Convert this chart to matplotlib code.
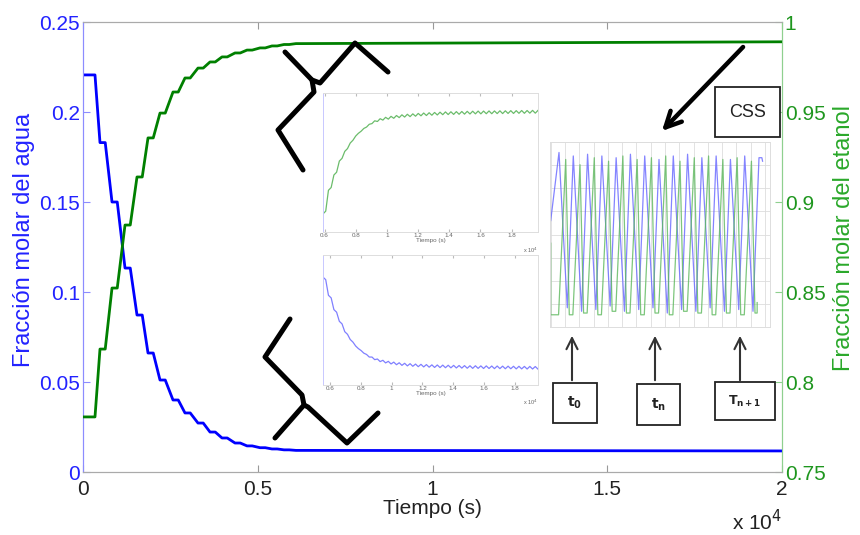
"""
Fracción molar de agua y etanol frente al tiempo, con detalles del estado
cíclico estacionario (CSS)
"""

import numpy as np
import matplotlib
matplotlib.use("Agg")
import matplotlib.pyplot as plt
from matplotlib.lines import Line2D

plt.rcParams['font.family'] = ['Liberation Sans', 'DejaVu Sans']

# --- main curves: one plateau per cycle (s, fraction) ---
cycle_t = [0, 486, 830, 1202, 1545, 1860, 2203, 2575, 2918, 3290, 3634,
           3977, 4349, 4692, 5064, 5407, 5751, 6094]
cycle_hold = [343, 150, 150, 150, 150, 150, 150, 150, 150, 150, 150,
              150, 150, 150, 150, 150, 150, 150]
water = [0.2206, 0.183, 0.150, 0.1133, 0.0872, 0.0661, 0.0511, 0.040, 0.0328,
         0.0272, 0.0222, 0.0189, 0.0161, 0.0145, 0.0135, 0.0128, 0.0123, 0.0120]
ethanol = [0.7806, 0.8183, 0.8522, 0.8872, 0.9139, 0.9356, 0.9494, 0.9611,
           0.9689, 0.9744, 0.9778, 0.9806, 0.9828, 0.9844, 0.9856, 0.9867,
           0.9875, 0.988]
t_end = 20000
water_end = 0.0117
ethanol_end = 0.989

x_ticks = [0, 5000, 10000, 15000, 20000]
x_ticklabels = ['0', '0.5', '1', '1.5', '2']
water_ticks = [0, 0.05, 0.1, 0.15, 0.2, 0.25]
water_ticklabels = ['0', '0.05', '0.1', '0.15', '0.2', '0.25']
ethanol_ticks = [0.75, 0.8, 0.85, 0.9, 0.95, 1.0]
ethanol_ticklabels = ['0.75', '0.8', '0.85', '0.9', '0.95', '1']

# --- zoomed insets (x in 1e4 s, y relative) ---
ins_green_span = (0.59, 1.97)
ins_green_lo = [0.13, 0.30, 0.41, 0.51, 0.58, 0.64, 0.69, 0.725, 0.755, 0.78,
                0.795, 0.805, 0.812, 0.818, 0.823, 0.827, 0.83, 0.833, 0.836,
                0.838, 0.84, 0.842, 0.844, 0.845, 0.846, 0.847, 0.848, 0.849,
                0.85, 0.85, 0.851, 0.851, 0.852, 0.852, 0.853, 0.853, 0.854,
                0.854, 0.855, 0.855]
ins_green_hi = [0.15, 0.32, 0.43, 0.53, 0.60, 0.66, 0.71, 0.745, 0.775, 0.80,
                0.815, 0.825, 0.832, 0.838, 0.843, 0.847, 0.85, 0.853, 0.856,
                0.858, 0.86, 0.862, 0.864, 0.865, 0.866, 0.867, 0.868, 0.869,
                0.87, 0.87, 0.871, 0.871, 0.872, 0.872, 0.873, 0.873, 0.874,
                0.874, 0.875, 0.875]
ins_blue_span = (0.555, 1.95)
ins_blue_hi = [0.83, 0.69, 0.58, 0.49, 0.41, 0.35, 0.30, 0.265, 0.235, 0.215,
               0.20, 0.19, 0.182, 0.176, 0.171, 0.167, 0.164, 0.161, 0.159,
               0.157, 0.155, 0.154, 0.153, 0.152, 0.151, 0.15, 0.149, 0.148,
               0.148, 0.147, 0.147, 0.146, 0.146, 0.145, 0.145, 0.144, 0.144,
               0.143, 0.143, 0.142]
ins_blue_lo = [0.81, 0.67, 0.56, 0.47, 0.39, 0.33, 0.28, 0.245, 0.215, 0.195,
               0.18, 0.17, 0.162, 0.156, 0.151, 0.147, 0.144, 0.141, 0.139,
               0.137, 0.135, 0.134, 0.133, 0.132, 0.131, 0.13, 0.129, 0.128,
               0.128, 0.127, 0.127, 0.126, 0.126, 0.125, 0.125, 0.124, 0.124,
               0.123, 0.123, 0.122]
ins_ticks = [0.6, 0.8, 1.0, 1.2, 1.4, 1.6, 1.8]
ins_ticklabels = ['0.6', '0.8', '1', '1.2', '1.4', '1.6', '1.8']

# --- CSS detail: one entry per cycle ---
css_blue_start = 0.58
css_blue_peak = [0.97, 0.95, 0.96, 0.95, 0.94, 0.96, 0.95, 0.93, 0.95, 0.96,
                 0.94, 0.95, 0.93, 0.95, 0.94]
css_blue_trough = [0.08, 0.06, 0.07, 0.09, 0.06, 0.07, 0.08, 0.05, 0.07, 0.06,
                   0.08, 0.06, 0.07, 0.06, 0.07]
css_green_start = 0.45
css_green_peak = [0.93, 0.90, 0.94, 0.92, 0.95, 0.93, 0.94, 0.95, 0.92, 0.94,
                  0.95, 0.93, 0.94, 0.92]
css_green_floor = [0.04, 0.04, 0.05, 0.04, 0.06, 0.05, 0.04, 0.05, 0.04, 0.06,
                   0.05, 0.04, 0.05, 0.04, 0.05]

BLUE = '#0000ff'
GREEN = '#008000'
W, H = 860, 535


def fig_xy(px, py):
    return px / W, 1 - py / H


def fig_rect(x0, y0, x1, y1):
    return [x0 / W, 1 - y1 / H, (x1 - x0) / W, (y1 - y0) / H]


def stair(times, holds, values, t_last, v_last):
    xs, ys = [], []
    for t, h, v in zip(times, holds, values):
        xs += [t, t + h]
        ys += [v, v]
    xs.append(t_last)
    ys.append(v_last)
    return xs, ys


fig = plt.figure(figsize=(W / 100, H / 100), dpi=100)
ax = fig.add_axes(fig_rect(83, 22, 782, 472))
ax2 = ax.twinx()

xs, ys = stair(cycle_t, cycle_hold, water, t_end, water_end)
ax.plot(xs, ys, color=BLUE, lw=2.0, zorder=3)
xs, ys = stair(cycle_t, cycle_hold, ethanol, t_end, ethanol_end)
ax2.plot(xs, ys, color=GREEN, lw=2.0, zorder=3)

ax.set_xlim(0, 20000)
ax.set_ylim(0, 0.25)
ax2.set_ylim(0.75, 1.0)
ax.set_xticks(x_ticks, x_ticklabels)
ax.set_yticks(water_ticks, water_ticklabels)
ax2.set_yticks(ethanol_ticks, ethanol_ticklabels)

ax.tick_params(axis='x', direction='in', length=5, top=True, labelsize=15,
               colors='#999999', labelcolor='#222222', pad=6)
ax.tick_params(axis='y', direction='in', length=5, labelsize=15,
               colors='#8c8cff', labelcolor='#2222ff', pad=2)
ax2.tick_params(axis='y', direction='in', length=5, labelsize=15,
                colors='#8fd08f', labelcolor='#1e961e', pad=2)
for a in (ax, ax2):
    a.spines['top'].set_color('#aaaaaa')
    a.spines['bottom'].set_color('#aaaaaa')
    a.spines['left'].set_color('#8c8cff')
    a.spines['right'].set_color('#8fd08f')

ax.set_ylabel('Fracción molar del agua', color='#2222ff', fontsize=17)
ax.yaxis.set_label_coords(-0.069, 0.515)
ax2.set_ylabel('Fracción molar del etanol', color='#2aa82a', fontsize=17)
ax2.yaxis.set_label_coords(1.073, 0.52)
ax.set_xlabel('Tiempo (s)', color='#222222', fontsize=15, labelpad=0)
fig.text(*fig_xy(757, 522), r'x 10$^4$', fontsize=15, color='#222222',
         ha='center', va='center')


def small_inset(rect, span, first, second, color):
    a = fig.add_axes(rect, zorder=5)
    t = np.linspace(span[0], span[1], 2 * len(first))
    v = np.column_stack([first, second]).ravel()
    a.plot(t, v, color=color, lw=0.9, alpha=0.75)
    a.set_xlim(span)
    a.set_ylim(0, 1)
    a.set_xticks(ins_ticks, ins_ticklabels)
    a.set_yticks([])
    a.tick_params(axis='x', direction='in', length=2, top=True, labelsize=4.5,
                  colors='#bbbbbb', labelcolor='#666666', pad=1)
    for s in a.spines.values():
        s.set_color('#dddddd')
        s.set_linewidth(0.7)
    a.spines['left'].set_color('#c8c8ff')
    a.set_xlabel('Tiempo (s)', fontsize=4.5, color='#666666', labelpad=0)
    a.text(1.0, -0.1, r'x 10$^4$', transform=a.transAxes, fontsize=4,
           color='#666666', ha='right', va='top')
    return a


small_inset(fig_rect(323, 93, 538, 232), ins_green_span, ins_green_lo,
            ins_green_hi, '#3aa63a')
small_inset(fig_rect(323, 255, 538, 385), ins_blue_span, ins_blue_hi,
            ins_blue_lo, '#5555ff')

# CSS detail
css = fig.add_axes(fig_rect(550, 142, 770, 327), zorder=5)
bx, by = [0.0], [css_blue_start]
for i, (pk, tr) in enumerate(zip(css_blue_peak, css_blue_trough)):
    bx += [i + 0.58, i + 1.16]
    by += [pk, tr]
bx = bx[:-1] + [bx[-2] + 0.2, bx[-2] + 0.25]
by = by[:-1] + [by[-2], by[-2] - 0.02]
css.plot(bx, by, color='#6e6eff', lw=0.9, alpha=0.85)
gx, gy = [0.0, 0.0], [css_green_start, css_green_floor[0]]
for i, pk in enumerate(css_green_peak):
    gx += [i + 0.55, i + 1.05, i + 1.3]
    gy += [css_green_floor[i], pk, css_green_floor[i + 1]]
gx += [len(css_green_peak) + 0.45, len(css_green_peak) + 0.45]
gy += [css_green_floor[-1], css_green_floor[-1] + 0.06]
css.plot(gx, gy, color='#5cb85c', lw=0.9, alpha=0.8)
css.set_xlim(-0.05, 15.35)
css.set_ylim(-0.03, 1.03)
css.set_xticks(np.arange(0, 16))
css.set_yticks(np.linspace(-0.03, 1.03, 9))
css.grid(True, color='#dddddd', lw=0.6)
css.tick_params(length=0, labelbottom=False, labelleft=False)
for s in css.spines.values():
    s.set_color('#dddddd')
    s.set_linewidth(0.7)

# decorations in pixel space
def stroke(pts, lw=3.6, color='black'):
    x, y = zip(*[fig_xy(px, py) for px, py in pts])
    fig.add_artist(Line2D(x, y, color=color, lw=lw, solid_capstyle='round',
                          solid_joinstyle='round', zorder=10))


stroke([(285, 52), (312, 80), (320, 83), (355, 43), (388, 72)])
stroke([(312, 80), (314, 92), (278, 130), (303, 170)])
stroke([(290, 319), (265, 357), (302, 395), (304, 405), (275, 438)])
stroke([(304, 405), (308, 407), (347, 443), (378, 413)])


def arrow(p_from, p_to, lw, color, scale):
    fig.add_artist(plt.matplotlib.patches.FancyArrowPatch(
        fig_xy(*p_from), fig_xy(*p_to), transform=fig.transFigure,
        arrowstyle='->', lw=lw, color=color, mutation_scale=scale, zorder=10))


arrow((745, 45), (660, 133), 3.2, 'black', 28)


def box(x0, y0, x1, y1, label, size):
    fig.add_artist(plt.Rectangle(fig_xy(x0, y1), (x1 - x0) / W,
                                 (y1 - y0) / H, transform=fig.transFigure,
                                 facecolor='white', edgecolor='#222222',
                                 lw=1.3, zorder=10))
    fig.text(*fig_xy((x0 + x1) / 2, (y0 + y1) / 2), label, fontsize=size,
             ha='center', va='center', color='#222222', zorder=11)


box(715, 87, 780, 137, 'CSS', 13)
box(553, 383, 597, 423, r'$\mathbf{t_0}$', 10)
box(637, 384, 680, 425, r'$\mathbf{t_n}$', 10)
box(715, 382, 775, 420, r'$\mathbf{T_{n+1}}$', 9)
for x in (572, 655, 740):
    arrow((x, 383), (x, 333), 1.5, '#333333', 20)

fig.savefig('out.png', dpi=100)
